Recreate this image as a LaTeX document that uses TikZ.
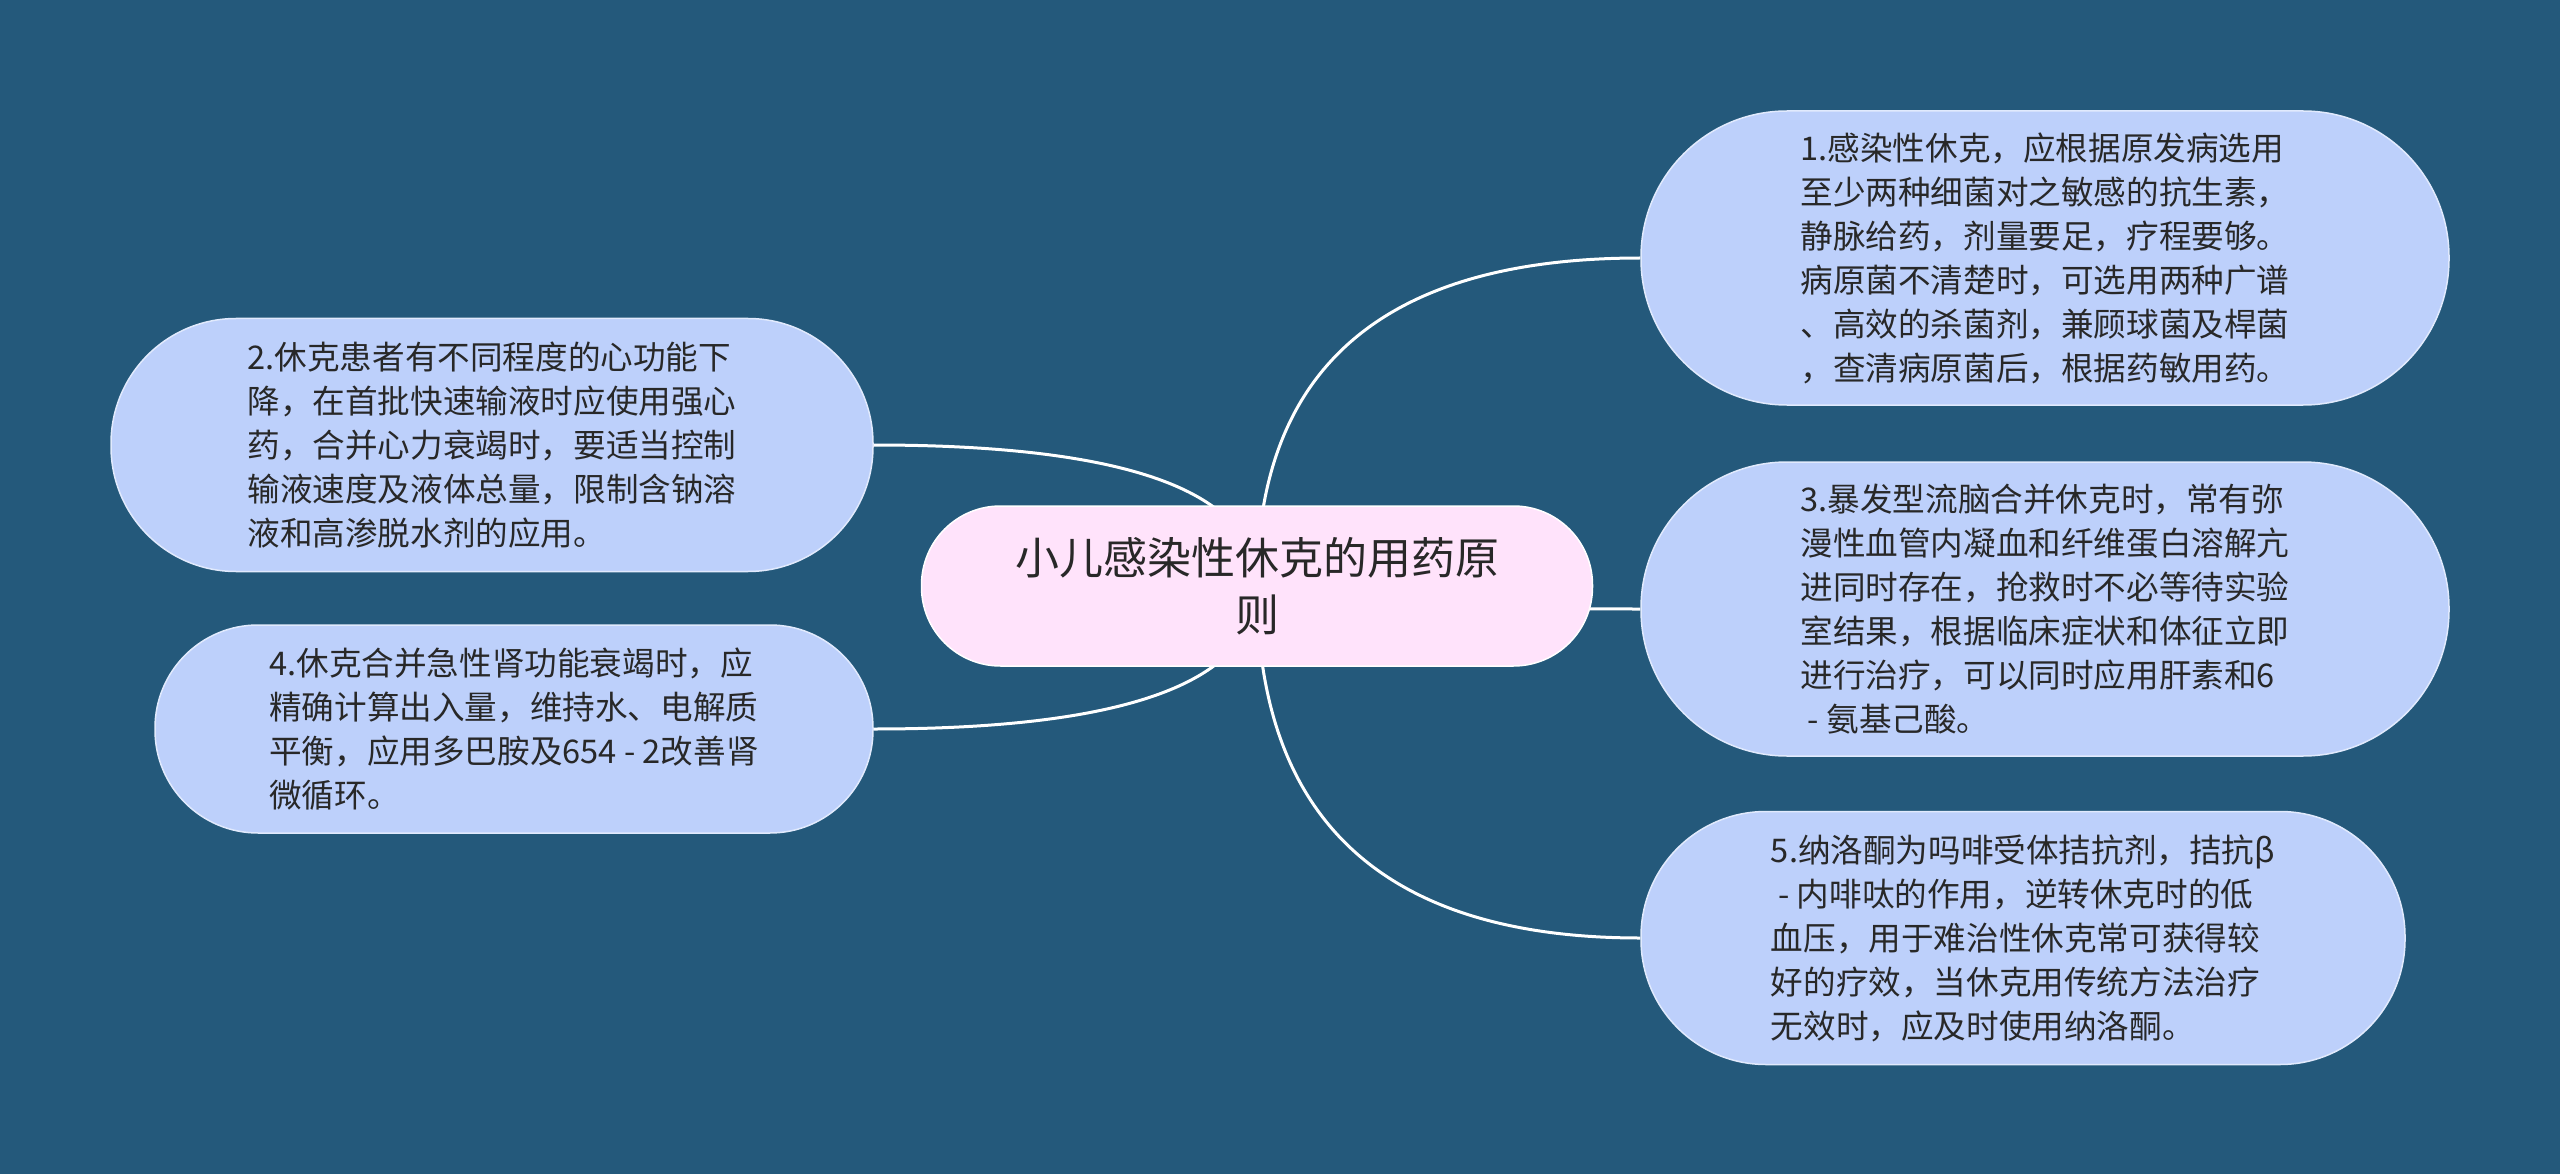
\documentclass[tikz,border=0pt]{standalone}
\usepackage{fontspec}
\setmainfont{Noto Sans CJK SC}
\usetikzlibrary{calc}
\definecolor{bgc}{RGB}{36,89,123}
\definecolor{leaf}{RGB}{189,208,251}
\definecolor{rootc}{RGB}{255,227,251}
\definecolor{txt}{RGB}{40,40,40}
\pgfdeclarelayer{bg}
\pgfsetlayers{bg,main}
\tikzset{
  leafbox/.style={draw=white!55!leaf, line width=1.5pt, fill=leaf, text=txt, align=left, inner sep=0pt,
    font=\fontsize{32.6}{44}\selectfont},
  rootbox/.style={draw=white, line width=1.5pt, fill=rootc, text=txt, align=center, inner sep=0pt,
    font=\fontsize{44}{57}\selectfont},
  conn/.style={draw=white, line width=3pt},
}
\begin{document}
\begin{tikzpicture}[x=1pt,y=-1pt]
\begin{pgfonlayer}{bg}
\fill[bgc] (0,0) rectangle (2560,1174);
\end{pgfonlayer}
\useasboundingbox (0,0) rectangle (2560,1174);

\node[rootbox, minimum width=671pt, minimum height=160pt, rounded corners=79pt] (root) at (1257,586)
  {小儿感染性休克的用药原\\则};

\node[leafbox, minimum width=808pt, minimum height=294pt, rounded corners=146pt] (n1) at (2045,258)
  {1.感染性休克，应根据原发病选用\\至少两种细菌对之敏感的抗生素，\\静脉给药，剂量要足，疗程要够。\\病原菌不清楚时，可选用两种广谱\\、高效的杀菌剂，兼顾球菌及桿菌\\，查清病原菌后，根据药敏用药。};

\node[leafbox, minimum width=808pt, minimum height=294pt, rounded corners=146pt] (n3) at (2045,609)
  {3.暴发型流脑合并休克时，常有弥\\漫性血管内凝血和纤维蛋白溶解亢\\进同时存在，抢救时不必等待实验\\室结果，根据临床症状和体征立即\\进行治疗，可以同时应用肝素和6\\\ - 氨基己酸。};

\node[leafbox, minimum width=764pt, minimum height=253pt, rounded corners=125pt] (n5) at (2023,938)
  {5.纳洛酮为吗啡受体拮抗剂，拮抗β\\\ - 内啡呔的作用，逆转休克时的低\\血压，用于难治性休克常可获得较\\好的疗效，当休克用传统方法治疗\\无效时，应及时使用纳洛酮。};

\node[leafbox, minimum width=762pt, minimum height=253pt, rounded corners=125pt] (n2) at (492,445)
  {2.休克患者有不同程度的心功能下\\降，在首批快速输液时应使用强心\\药，合并心力衰竭时，要适当控制\\输液速度及液体总量，限制含钠溶\\液和高渗脱水剂的应用。};

\node[leafbox, minimum width=718pt, minimum height=208pt, rounded corners=103pt] (n4) at (514,729)
  {4.休克合并急性肾功能衰竭时，应\\精确计算出入量，维持水、电解质\\平衡，应用多巴胺及654 - 2改善肾\\微循环。};

\begin{pgfonlayer}{bg}
\foreach \c in {n1,n3,n5}{
  \draw[conn] (root.center) .. controls ($(root.center)!0.667!(root.center |- \c.west)$)
    and ($(\c.west)!0.667!(root.center |- \c.west)$) .. (\c.west);
}
\foreach \c in {n2,n4}{
  \draw[conn] (root.center) .. controls ($(root.center)!0.667!(root.center |- \c.east)$)
    and ($(\c.east)!0.667!(root.center |- \c.east)$) .. (\c.east);
}
\end{pgfonlayer}
\end{tikzpicture}
\end{document}
